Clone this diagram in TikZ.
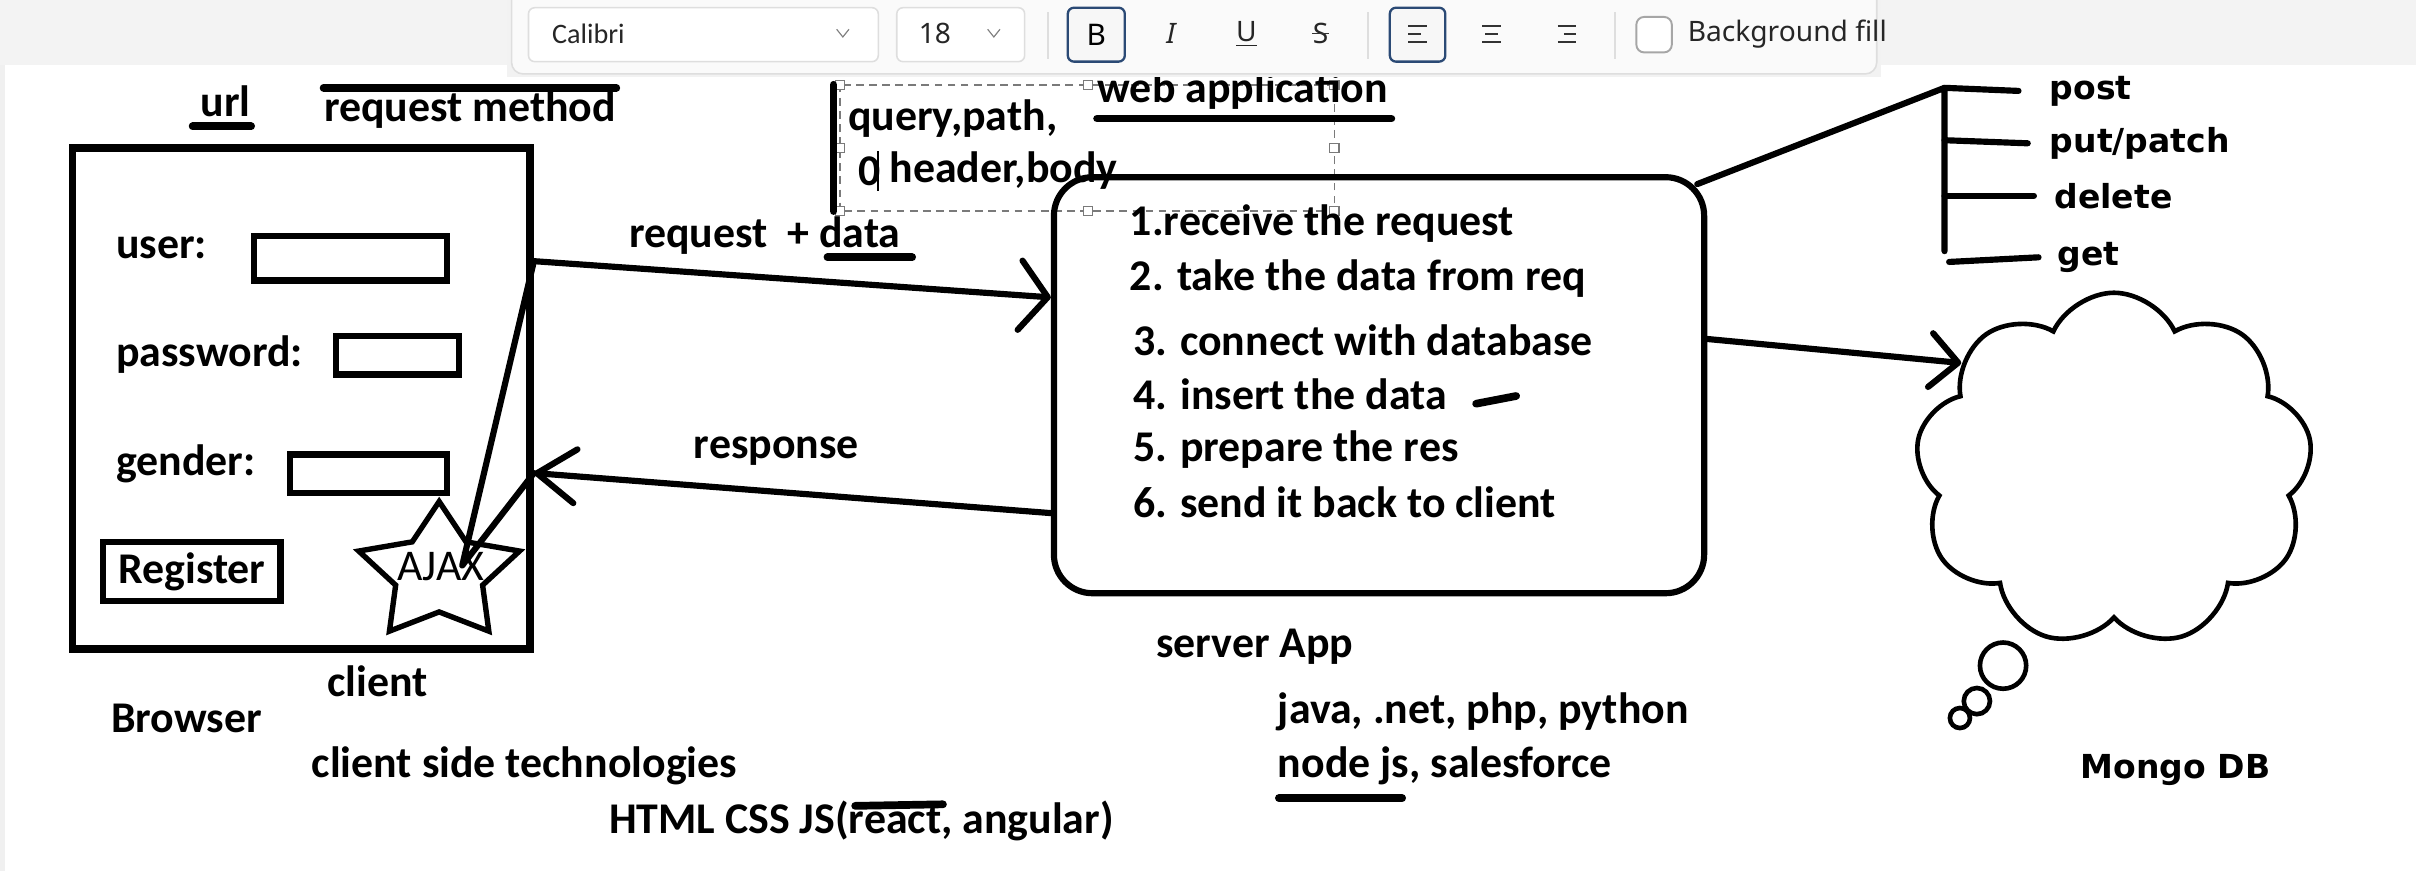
\documentclass[tikz,border=0pt]{standalone}
\usepackage{fontspec}
\setmainfont{Carlito}
\newfontfamily\dejavu{DejaVu Sans}
\newfontfamily\uifont{Noto Sans}
\usetikzlibrary{shapes.geometric,shapes.symbols,arrows.meta,calc}

\definecolor{tbstrip}{HTML}{F3F3F3}
\definecolor{tbpanel}{HTML}{FAFAFA}
\definecolor{tbedge}{HTML}{DEDEDE}
\definecolor{tbactive}{HTML}{2B4A75}
\definecolor{selgray}{HTML}{7A7A7A}

\tikzset{
  txt/.style={inner sep=0pt, font=\fontsize{16.2}{19}\selectfont\bfseries},
  meth/.style={inner sep=0pt, anchor=west, font=\fontsize{12.2}{14}\selectfont\dejavu\bfseries},
  pen/.style={line width=0.8mm, line cap=round, line join=round},
  bar/.style={line width=1mm, line cap=round},
  field/.style={draw, line width=0.8mm, inner sep=0pt},
  barb/.style={-{Straight Barb[length=3.6mm, width=9mm, round]}},
  tbbox/.style={draw=tbedge, fill=white, line width=0.2mm, rounded corners=0.8mm, inner sep=0pt},
  tbbtn/.style={draw=tbactive, fill=gray!6, line width=0.3mm, rounded corners=0.8mm, inner sep=0pt, minimum width=7.4mm, minimum height=7mm},
  tbtext/.style={inner sep=0pt, text=black!85, font=\fontsize{10.4}{12}\selectfont\uifont},
}

\begin{document}
\begin{tikzpicture}[x=0.2mm, y=-0.2mm]
\useasboundingbox (0,0) rectangle (1568,565);
\fill[white] (0,0) rectangle (1568,565);
\fill[gray!12] (0,42) rectangle (3,565);

% browser side
\node[draw, line width=1mm, inner sep=0pt, minimum width=59.4mm, minimum height=65mm] (browser) at (195.5,258.5) {};
\node[txt, anchor=west] (userlbl) at (75,161) {user:};
\node[field, minimum width=25mm, minimum height=5.8mm] (userbox) at (227.5,167.5) {};
\node[txt, anchor=west] (passlbl) at (75,230) {password:};
\node[field, minimum width=16mm, minimum height=5mm] (passbox) at (258,230.5) {};
\node[txt, anchor=west] (genderlbl) at (75,301) {gender:};
\node[field, minimum width=20.4mm, minimum height=5mm] (genderbox) at (239,307.5) {};
\node[field, txt, draw, line width=0.8mm, minimum width=23mm, minimum height=7.6mm] (register) at (124.5,371) {Register};
\begin{scope}[shift={(285,372)}, xscale=1.18]
  \node[star, star points=5, star point ratio=1.85, draw, line width=0.7mm, minimum size=18.6mm, inner sep=0pt, transform shape] (ajax) at (0,0) {};
\end{scope}
\node[inner sep=0pt, font=\fontsize{16.2}{19}\selectfont] (ajaxtxt) at (286,368) {AJAX};

\node[txt, anchor=west] (url) at (130,66) {url};
\draw[bar] (125,82) -- (163,82);
\node[txt, anchor=west] (reqmethod) at (210,71) {request method};
\draw[bar] (210,57) -- (400,57);

\node[txt] (client) at (245,442) {client};
\node[txt] (browserlbl) at (121,466) {Browser};
\node[txt, anchor=west] (clienttech) at (202,497) {client side technologies};
\node[txt, anchor=west] (htmlcss) at (395,533) {HTML CSS JS(react, angular)};
\draw[bar] (555,523) -- (612,522);

% request / response
\node[txt, anchor=west] (reqlbl) at (408,153) {request~~+ data};
\draw[bar] (537,167) -- (592,167);
\node[txt, anchor=west] (reslbl) at (450,293) {response};

% text box being edited
\draw[selgray, line width=0.2mm, dash pattern=on 1mm off 0.7mm] (545,55) rectangle (866,137);
\foreach \hx/\hy in {545/55,706/55,866/55,545/96,866/96,545/137,706/137,866/137}
  \draw[selgray, fill=white, line width=0.15mm] (\hx-3,\hy-3) rectangle (\hx+3,\hy+3);
\draw[bar] (541,55) -- (541,137);
\node[txt, anchor=west] (qpath) at (550,77) {query,path,};
\node[txt, anchor=west] (zero) at (557,111) {0};
\draw[line width=0.25mm] (570,98) -- (570,124);
\node[txt, anchor=west] (hbody) at (577,111) {header,body};
\node[txt, anchor=west] (webapp) at (712,59) {web application};
\draw[bar] (712,77) -- (903,77);

% server
\node[draw, line width=0.8mm, rounded corners=5mm, minimum width=84.4mm, minimum height=54mm, inner sep=0pt] (server) at (895,250) {};
\node[txt, anchor=west] (step1) at (733,145) {1.receive the request};
\node[txt, anchor=west] (step2) at (733,181) {2. take the data from req};
\node[txt, anchor=west] (step3) at (735,221) {3. connect with database};
\node[txt, anchor=west] (step4) at (735,256) {4. insert the data};
\draw[bar] (958,262) -- (984,257);
\node[txt, anchor=west] (step5) at (735,292) {5. prepare the res};
\node[txt, anchor=west] (step6) at (735,326) {6. send it back to client};
\node[txt, anchor=west] (serverlbl) at (750,420) {server App};
\node[txt, anchor=west] (langs) at (829,462) {java, .net, php, python};
\node[txt, anchor=west] (nodejs) at (829,497) {node js, salesforce};
\draw[bar] (830,518) -- (910,518);

\coordinate (reqout) at ([yshift=-15.2mm]browser.north east);
\coordinate (resin) at ([yshift=-9.7mm]browser.east);
\coordinate (ajaxhit) at (300,367);
\draw[pen, barb] (reqout) -- ([yshift=11.4mm]server.west);
\draw[pen, -{Straight Barb[length=5mm, width=7mm, round]}] ([yshift=-16.6mm]server.west) -- (resin);
\draw[pen] (reqout) -- (ajaxhit) -- (resin);

% request methods
\coordinate (mtop) at (1262,57);
\coordinate (mbot) at (1262,163);
\draw[pen] ([shift={(-1.3mm,-1.3mm)}]server.north east) -- (mtop) -- (mbot);
\node[meth] (post) at (1330,59) {post};
\node[meth] (put) at (1330,93) {put/patch};
\node[meth] (delete) at (1333,127) {delete};
\node[meth] (get) at (1335,167) {get};
\draw[pen] (mtop) -- ([xshift=-4mm]post.west);
\draw[pen] (1262,91) -- ([xshift=-2.8mm]put.west);
\draw[pen] (1262,127) -- ([xshift=-2.6mm]delete.west);
\draw[pen] (1265,170) -- ([xshift=-2.4mm]get.west);

% database
\node[cloud, draw, line width=0.6mm, cloud puffs=9, cloud puff arc=130, aspect=1.1, minimum width=51.6mm, minimum height=46mm, inner sep=0pt] (mongo) at (1372,305) {};
\node[circle, draw, line width=0.6mm, minimum size=6mm, inner sep=0pt] (bub1) at (1300,432) {};
\node[circle, draw, line width=0.6mm, minimum size=3.4mm, inner sep=0pt] (bub2) at (1283,455) {};
\node[circle, draw, line width=0.6mm, minimum size=2.6mm, inner sep=0pt] (bub3) at (1272,466) {};
\node[meth] (mongolbl) at (1350,500) {Mongo DB};
\draw[pen, -{Straight Barb[length=3.6mm, width=7mm, round]}] ([yshift=6mm]server.east) -- (mongo.145);

% toolbar
\fill[tbstrip] (0,0) rectangle (1568,42);
\fill[gray!10] (329,-5) rectangle (1221,50);
\draw[tbedge, fill=tbpanel, line width=0.2mm, rounded corners=1.5mm] (332,-10) rectangle (1218,48);
\node[tbbox, minimum width=45.4mm, minimum height=7mm] (fontbox) at (456.5,22.5) {};
\node[inner sep=0pt, anchor=west, text=black!85, font=\fontsize{10.4}{12}\selectfont] (fontname) at (358,22) {Calibri};
\draw[gray, line width=0.15mm] (543,19) -- (547,24) -- (551,19);
\node[tbbox, minimum width=16.6mm, minimum height=7mm] (sizebox) at (623.5,22.5) {};
\node[tbtext, anchor=west] (sizeval) at (596,22) {18};
\draw[gray, line width=0.15mm] (641,19) -- (645,24) -- (649,19);
\draw[tbedge, line width=0.25mm] (680,8) -- (680,38);
\node[tbbtn] (boldbtn) at (711.5,22.5) {\fontsize{11}{12}\selectfont\uifont\bfseries B};
\node[tbtext] (italbtn) at (760,22) {\itshape I};
\node[tbtext] (ulbtn) at (809,22) {\underline{U}};
\node[tbtext] (strkbtn) at (857,22) {S};
\draw[black!80, line width=0.15mm] (strkbtn.west) -- (strkbtn.east);
\draw[tbedge, line width=0.25mm] (888,8) -- (888,38);
\node[tbbtn, minimum width=7.2mm] (leftbtn) at (920,22.5) {};
\draw[black!80, line width=0.25mm] (914,17) -- (926,17) (914,22) -- (922,22) (914,27) -- (926,27);
\draw[black!80, line width=0.25mm] (962,17) -- (974,17) (964,22) -- (972,22) (962,27) -- (974,27);
\draw[black!80, line width=0.25mm] (1011,17) -- (1023,17) (1015,22) -- (1023,22) (1011,27) -- (1023,27);
\draw[tbedge, line width=0.25mm] (1048,8) -- (1048,38);
\node[draw=gray!70, fill=white, line width=0.25mm, rounded corners=1mm, minimum size=4.6mm, inner sep=0pt] (bgcheck) at (1073.5,22.5) {};
\node[tbtext, anchor=west] (bglabel) at (1095,22) {Background fill};
\end{tikzpicture}
\end{document}
